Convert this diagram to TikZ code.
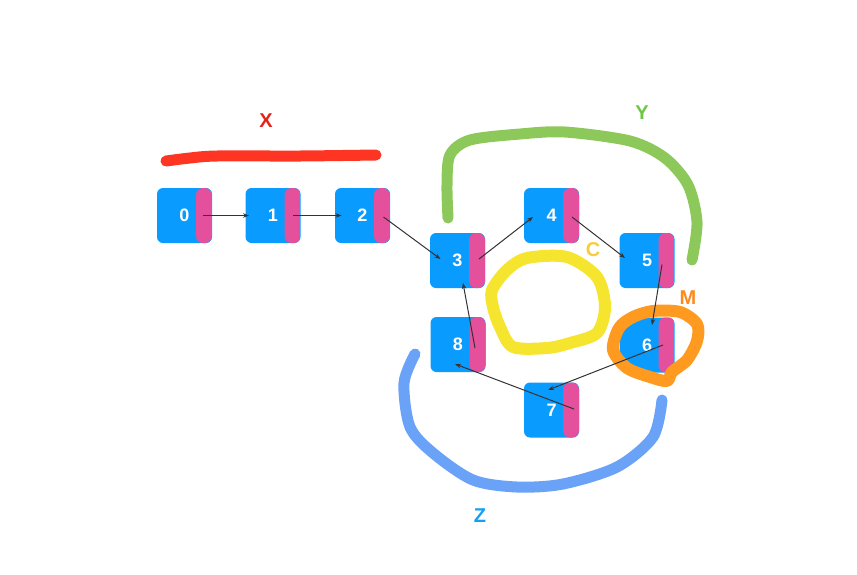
\documentclass[tikz,border=0pt]{standalone}
\usepackage{fontspec}
\setmainfont{Liberation Sans}
\usetikzlibrary{arrows.meta}

\definecolor{boxblue}{HTML}{0A9BFF}
\definecolor{boxpink}{HTML}{E4509B}
\definecolor{penred}{HTML}{FF3524}
\definecolor{pengreen}{HTML}{8DC85B}
\definecolor{penyellow}{HTML}{F5E52F}
\definecolor{penorange}{HTML}{FF9A20}
\definecolor{penblue}{HTML}{6AA2F7}
\definecolor{tagred}{HTML}{E5231B}
\definecolor{taggreen}{HTML}{6CC644}
\definecolor{tagyellow}{HTML}{F8CC3C}
\definecolor{tagorange}{HTML}{FF8A1C}
\definecolor{tagblue}{HTML}{12A0F6}

\begin{document}
\begin{tikzpicture}[x=1pt,y=-1pt,
    cell/.style={rectangle, rounded corners=6pt, minimum size=55pt, inner sep=0pt,
      fill=boxblue, text=white, font=\fontsize{18}{21}\selectfont\bfseries,
      path picture={\fill[boxpink, rounded corners=7pt]
        ([xshift=-16pt]path picture bounding box.north east) rectangle
        (path picture bounding box.south east);}},
    link/.style={-{Stealth[length=6pt,width=4.5pt]}, draw=black!80, line width=1pt},
    pen/.style={line width=11pt, line cap=round, line join=round},
    tag/.style={font=\fontsize{20}{24}\selectfont\bfseries}]
	\useasboundingbox (0,0) rectangle (857,574);

	% List cells
	\node[cell] (n0) at (184.5,215.5) {0};
	\node[cell] (n1) at (273,215.5) {1};
	\node[cell] (n2) at (362.5,215.5) {2};
	\node[cell] (n3) at (457.5,260.5) {3};
	\node[cell] (n4) at (551.5,215.5) {4};
	\node[cell] (n5) at (647,260.5) {5};
	\node[cell] (n6) at (647,345) {6};
	\node[cell] (n7) at (551.5,410) {7};
	\node[cell] (n8) at (458,344.5) {8};

	% Hand drawn marks
	\draw[pen, penred] plot[smooth] coordinates {(166,161) (190,158) (217,156) (300,156) (376,155)};
	\draw[pen, pengreen] plot[smooth] coordinates {(448,218) (447,185) (450,155) (470,140) (520,134) (565,132) (630,141) (665,158) (688,185) (697,222) (692,260)};
	\draw[pen, penblue] plot[smooth] coordinates {(415,354) (404,383) (410,427) (433,453) (473,480) (517,487) (563,484) (617,467) (653,437) (662,400)};
	\draw[pen, penyellow, line width=12pt] plot[smooth cycle] coordinates {(492,290) (507,270) (527,258) (567,257) (597,277) (605,307) (597,333) (570,343) (547,348) (513,347) (500,327) (493,307)};
	\draw[pen, penorange, line width=12pt] plot[smooth cycle] coordinates {(653,311) (680,312) (697,324) (697,341) (687,360) (672,372) (667,381) (650,377) (627,368) (613,350) (619,328) (633,317)};

	% Labels
	\node[tag, text=tagred] (lx) at (266,121) {X};
	\node[tag, text=taggreen] (ly) at (642,113) {Y};
	\node[tag, text=tagyellow] (lc) at (593,250) {C};
	\node[tag, text=tagorange] (lm) at (688,298) {M};
	\node[tag, text=tagblue] (lz) at (480,516) {Z};

	% Links
	\draw[link] ([shift={(18,0)}]n0.center) -- ([shift={(-24,0)}]n1.center);
	\draw[link] ([shift={(20,0)}]n1.center) -- ([shift={(-21,0)}]n2.center);
	\draw[link] ([shift={(21,1.5)}]n2.center) -- ([shift={(-17,-1.5)}]n3.center);
	\draw[link] ([shift={(21.5,-1.5)}]n3.center) -- ([shift={(-18.5,1.5)}]n4.center);
	\draw[link] ([shift={(20.5,1.5)}]n4.center) -- ([shift={(-22,-2.5)}]n5.center);
	\draw[link] ([shift={(15,4)}]n5.center) -- ([shift={(5,-20)}]n6.center);
	\draw[link] ([shift={(16,0)}]n6.center) -- ([shift={(-3.5,-20)}]n7.center);
	\draw[link] ([shift={(22.5,-1)}]n7.center) -- ([shift={(-3,19.5)}]n8.center);
	\draw[link] ([shift={(17,3.5)}]n8.center) -- ([shift={(5.5,22.5)}]n3.center);
\end{tikzpicture}
\end{document}
